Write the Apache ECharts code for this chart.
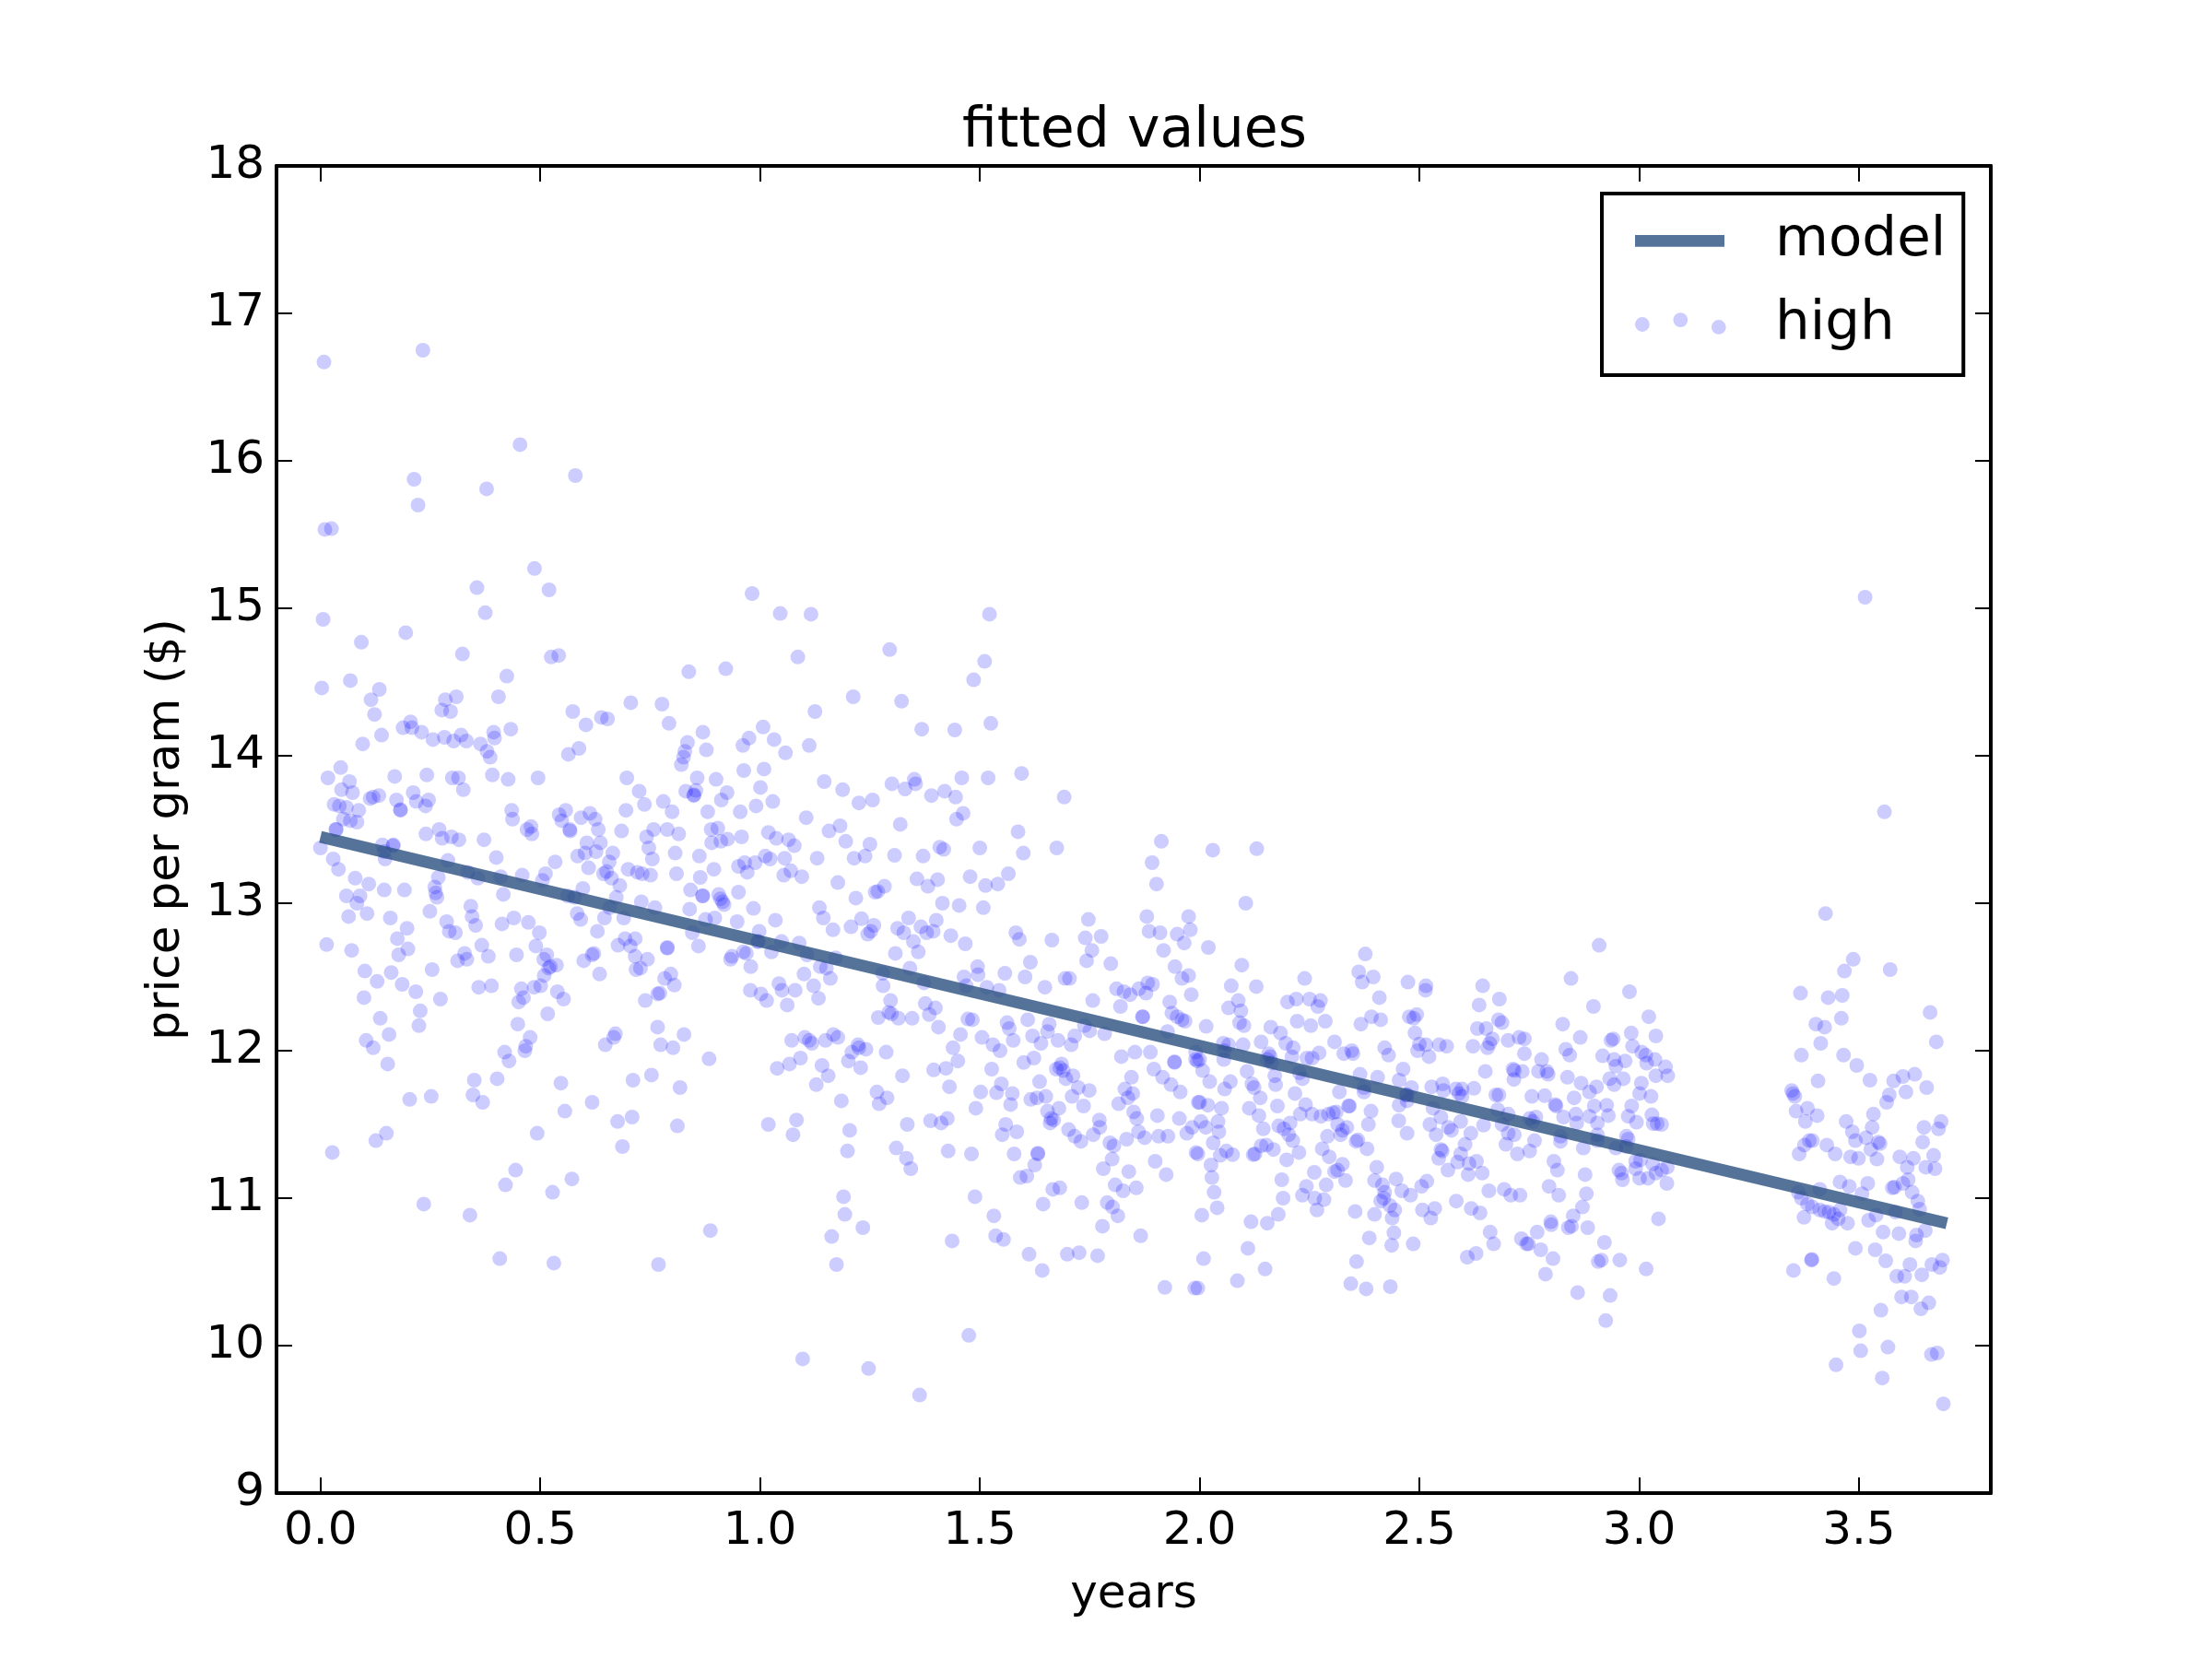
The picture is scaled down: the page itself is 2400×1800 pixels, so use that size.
<!DOCTYPE html>
<html>
<head>
<meta charset="utf-8">
<title>fitted values</title>
<script src="https://cdn.jsdelivr.net/npm/echarts@6/dist/echarts.min.js"></script>
<style>
  html, body { margin: 0; padding: 0; background: #fff; }
  #chart { width: 2400px; height: 1800px; }
</style>
</head>
<body>
<div id="chart"></div>
<script>
// tick labels
var xTicks = [0, 0.5, 1, 1.5, 2, 2.5, 3, 3.5];
var yTicks = [9, 10, 11, 12, 13, 14, 15, 16, 17, 18];

// fitted line, [years, price]
var modelLine = [[0, 13.45], [3.7, 10.83]];

// scatter values, [years, price], split by area of the plot
var highTopLeft = [[0.008,16.67],[0.233,16.75],[0.454,16.11],[0.213,15.875],[0.58,15.9],[0.378,15.81],[0.222,15.7],[0.01,15.535],[0.025,15.54],[0.487,15.27],[0.356,15.14],[0.52,15.125],[0.006,14.925],[0.375,14.97],[0.194,14.835],[0.093,14.77],[0.323,14.69],[0.525,14.67],[0.542,14.68],[0.424,14.54],[0.838,14.57],[0.922,14.59],[0.068,14.51],[0.003,14.46],[0.134,14.45],[0.115,14.38],[0.123,14.28],[0.284,14.38],[0.309,14.4],[0.405,14.4],[0.276,14.31],[0.296,14.3],[0.574,14.3],[0.706,14.36],[0.777,14.35],[0.793,14.22],[0.87,14.16],[0.639,14.26],[0.653,14.25],[0.604,14.21],[0.205,14.23],[0.188,14.19],[0.208,14.19],[0.23,14.16],[0.256,14.11],[0.282,14.125],[0.303,14.1],[0.32,14.14],[0.332,14.1],[0.139,14.14],[0.096,14.08],[0.364,14.08],[0.379,14.03],[0.386,13.99],[0.394,14.16],[0.396,14.12],[0.433,14.18],[0.588,14.05],[0.564,14.01],[0.835,14.09],[0.829,14.03],[0.826,13.99],[0.821,13.94],[0.878,14.04],[0.046,13.92]];

var highLeft = [[0.017,13.85],[0.066,13.825],[0.048,13.77],[0.073,13.75],[0.113,13.71],[0.12,13.72],[0.133,13.73],[0.031,13.67],[0.043,13.66],[0.059,13.65],[0.087,13.63],[0.052,13.57],[0.068,13.56],[0.083,13.55],[0.036,13.5],[0.035,13.5],[0.169,13.86],[0.173,13.7],[0.182,13.63],[0.182,13.635],[0.211,13.75],[0.218,13.69],[0.239,13.66],[0.246,13.7],[0.242,13.87],[0.3,13.85],[0.314,13.85],[0.325,13.77],[0.391,13.87],[0.427,13.84],[0.495,13.85],[0.24,13.47],[0.27,13.5],[0.277,13.44],[0.298,13.45],[0.315,13.43],[0.372,13.43],[0.435,13.63],[0.437,13.57],[0.479,13.52],[0.47,13.5],[0.481,13.47],[0.4,13.31],[0.166,13.395],[0.165,13.39],[0.141,13.395],[0.145,13.35],[0.147,13.3],[0,13.375],[0.029,13.3],[0.041,13.23],[0.079,13.17],[0.11,13.13],[0.059,13.05],[0.09,13.05],[0.083,13],[0.145,13.09],[0.191,13.09],[0.064,12.91],[0.106,12.93],[0.159,12.9],[0.197,12.83],[0.175,12.76],[0.199,12.69],[0.178,12.65],[0.014,12.72],[0.071,12.68],[0.101,12.54],[0.161,12.53],[0.129,12.47],[0.186,12.45],[0.217,12.4],[0.099,12.36],[0.273,12.35],[0.254,12.55],[0.227,12.27],[0.136,12.22],[0.224,12.17],[0.156,12.11],[0.104,12.07],[0.12,12.02],[0.153,11.91],[0.203,11.67],[0.252,11.69],[0.027,11.31],[0.126,11.39],[0.15,11.44],[0.235,10.96],[0.34,10.885],[0.408,10.59],[0.531,10.56],[0.769,10.55],[0.887,10.78],[0.421,11.09],[0.444,11.19],[0.528,11.04],[0.572,11.13],[0.493,11.44],[0.556,11.59],[0.618,11.65],[0.547,11.78],[0.402,11.81],[0.35,11.8],[0.347,11.7],[0.369,11.65],[0.429,11.93],[0.419,11.99],[0.465,12],[0.467,12.03],[0.477,12.09],[0.449,12.18],[0.517,12.25],[0.539,12.4],[0.553,12.35],[0.457,12.42],[0.462,12.36],[0.451,12.33],[0.36,12.43],[0.389,12.44],[0.486,12.43],[0.501,12.44],[0.509,12.51],[0.523,12.57],[0.519,12.56],[0.537,12.58],[0.508,12.62],[0.515,12.65],[0.49,12.71],[0.446,12.65],[0.498,12.8],[0.473,12.87],[0.44,12.9],[0.413,12.86],[0.416,13.06],[0.367,12.715],[0.382,12.64],[0.328,12.66],[0.333,12.62],[0.312,12.61],[0.342,12.98],[0.345,12.91],[0.353,12.85],[0.287,12.875],[0.293,12.81],[0.307,12.8],[0.249,12.945],[0.26,13.11],[0.262,13.07],[0.265,13.04],[0.268,13.175],[0.29,13.29],[0.335,13.21],[0.358,13.17],[0.41,13.18],[0.459,13.19],[0.505,13.155],[0.512,13.2],[0.534,13.28],[0.543,13.6],[0.558,13.63],[0.549,13.56],[0.567,13.5],[0.568,13.49],[0.593,13.58],[0.613,13.61],[0.625,13.57],[0.632,13.5],[0.606,13.41],[0.637,13.41],[0.602,13.34],[0.627,13.35],[0.585,13.32],[0.665,13.34],[0.657,13.28],[0.61,13.24],[0.685,13.49],[0.695,13.63],[0.697,13.85],[0.725,13.76],[0.737,13.67],[0.78,13.69],[0.8,13.62],[0.758,13.5],[0.742,13.45],[0.747,13.375],[0.755,13.3],[0.789,13.5],[0.815,13.47],[0.807,13.34],[0.81,13.2],[0.7,13.23],[0.721,13.21],[0.732,13.2],[0.751,13.19],[0.644,13.2],[0.651,13.215],[0.662,13.17],[0.681,13.12],[0.673,13.04],[0.597,13.1],[0.5625,13.05],[0.578,13.04],[0.584,12.93],[0.592,12.89],[0.646,12.9],[0.658,12.97],[0.69,12.9],[0.73,13.01],[0.761,12.97],[0.63,12.81],[0.677,12.715],[0.693,12.76],[0.716,12.76],[0.705,12.71],[0.716,12.64],[0.744,12.62],[0.789,12.7],[0.789,12.695],[0.599,12.61],[0.618,12.65],[0.622,12.66],[0.635,12.52],[0.718,12.55],[0.728,12.56],[0.797,12.52],[0.783,12.49],[0.805,12.445],[0.772,12.39],[0.767,12.385],[0.739,12.34],[0.767,12.16],[0.671,12.115],[0.667,12.09],[0.648,12.04],[0.827,12.11],[0.774,12.04],[0.802,12.02],[0.884,11.945],[0.753,11.835],[0.711,11.8],[0.818,11.75],[0.709,11.55],[0.676,11.52],[0.812,11.49],[0.687,11.35],[0.857,13.85],[0.9,13.84],[0.831,13.76],[0.854,13.765],[0.849,13.73],[0.85,13.735],[0.925,13.75],[0.912,13.7],[0.881,13.62],[0.889,13.5],[0.904,13.51],[0.89,13.41],[0.911,13.42],[0.926,13.435],[0.862,13.32],[0.895,13.23],[0.864,13.175],[0.842,13.09],[0.869,13.05],[0.87,13.05],[0.906,13.06],[0.91,13.03],[0.915,13.01],[0.918,12.99],[0.84,12.96],[0.876,12.89],[0.897,12.9],[0.846,12.8],[0.86,12.71],[0.933,12.62],[0.936,12.64]];

var highMidUpper = [[0.982,15.1],[1.046,14.965],[1.116,14.96],[1.522,14.96],[1.086,14.67],[1.295,14.72],[1.511,14.64],[1.486,14.515],[1.212,14.4],[1.322,14.37],[1.125,14.3],[1.525,14.22],[1.368,14.18],[1.443,14.175],[1.007,14.195],[0.975,14.12],[0.961,14.07],[1.032,14.11],[1.058,14.02],[1.112,14.07],[0.963,13.9],[1.009,13.91],[1.001,13.785],[1.146,13.825],[1.188,13.77],[1.225,13.68],[1.256,13.7],[1.3,13.81],[1.33,13.775],[1.351,13.84],[1.354,13.81],[1.39,13.73],[1.42,13.76],[1.445,13.72],[1.459,13.85],[1.519,13.85],[1.595,13.88],[1.692,13.72],[1.462,13.61],[1.447,13.57],[1.319,13.535],[0.991,13.66],[1.029,13.69],[0.955,13.62],[1.105,13.58],[1.182,13.525],[1.157,13.49],[0.958,13.45],[1.019,13.48],[1.037,13.44],[1.065,13.43],[1.078,13.39],[1.195,13.42],[1.25,13.4],[1.587,13.485],[1.675,13.375],[1.599,13.34],[1.5,13.375],[1.409,13.38],[1.418,13.365],[1.371,13.32],[1.306,13.325],[1.239,13.32],[1.214,13.305],[1.13,13.305],[1.056,13.305],[1.012,13.32],[1.023,13.3],[0.989,13.275],[0.965,13.275],[0.971,13.21],[0.951,13.25],[1.07,13.22],[1.054,13.19],[1.095,13.18],[1.565,13.2],[1.478,13.18],[1.541,13.13],[1.513,13.12],[1.357,13.165],[1.404,13.16],[1.382,13.115],[1.892,13.275],[1.913,13.42],[1.902,13.13],[1.177,13.14],[1.283,13.115],[1.268,13.08],[1.262,13.075],[0.951,13.075],[1.218,13.035],[1.415,13],[1.453,12.985],[1.508,12.97],[0.985,12.965],[1.135,12.97],[1.144,12.9],[1.035,12.885],[0.948,12.875],[1.231,12.895],[1.338,12.9],[1.401,12.885],[1.747,12.89],[1.88,12.91],[1.975,12.91],[1.166,12.82],[1.207,12.84],[1.259,12.85],[1.252,12.81],[1.245,12.79],[1.313,12.83],[1.327,12.8],[1.366,12.84],[1.379,12.8],[1.394,12.81],[1.349,12.74],[1.36,12.67],[1.434,12.78],[1.467,12.725],[1.582,12.8],[1.59,12.755],[1.664,12.75],[1.74,12.765],[1.776,12.775],[1.755,12.68],[1.743,12.61],[1.798,12.59],[1.885,12.81],[1.91,12.8],[1.949,12.79],[1.979,12.82],[1.965,12.73],[1.918,12.68],[1.944,12.57],[1.308,12.66],[0.998,12.81],[0.996,12.74],[0.995,12.74],[1.049,12.74],[1.026,12.67],[1.089,12.73],[1.107,12.65],[1.172,12.63],[0.962,12.67],[0.969,12.66],[0.979,12.57],[1.137,12.57],[1.151,12.56],[1.341,12.56],[1.495,12.57],[1.615,12.6]];

var highMidLower = [[0.978,12.41],[1.002,12.385],[1.015,12.34],[1.043,12.455],[1.05,12.41],[1.08,12.41],[1.062,12.31],[1.1,12.52],[1.122,12.44],[1.133,12.355],[1.16,12.49],[1.28,12.44],[1.279,12.525],[1.297,12.34],[1.269,12.225],[1.293,12.26],[1.299,12.25],[1.315,12.22],[1.346,12.22],[1.376,12.32],[1.399,12.29],[1.385,12.245],[1.406,12.16],[1.464,12.5],[1.469,12.44],[1.496,12.515],[1.557,12.525],[1.603,12.5],[1.648,12.43],[1.694,12.49],[1.704,12.49],[1.516,12.43],[1.544,12.41],[1.373,12.46],[1.757,12.34],[1.811,12.42],[1.828,12.4],[1.842,12.38],[1.862,12.42],[1.878,12.39],[1.882,12.46],[1.893,12.45],[1.82,12.3],[1.87,12.23],[1.871,12.23],[1.96,12.49],[1.975,12.51],[1.981,12.38],[1.932,12.33],[1.937,12.255],[1.949,12.23],[1.96,12.21],[1.967,12.2],[1.927,12.13],[1.991,11.99],[1.991,11.94],[1.995,11.93],[1.678,12.07],[1.716,12.1],[1.708,12.04],[1.75,12.135],[1.784,12.115],[1.738,12.17],[1.658,12.18],[1.654,12.13],[1.62,12.1],[1.639,12.05],[1.609,12.21],[1.562,12.19],[1.567,12.15],[1.576,12.07],[1.505,12.09],[1.53,12.04],[1.546,12],[1.473,12.215],[1.483,12.21],[1.456,12.11],[1.439,12.02],[1.45,11.93],[1.423,11.88],[1.395,11.87],[1.324,11.83],[1.287,11.99],[1.223,12.04],[1.225,12.02],[1.241,12.01],[1.209,11.99],[1.201,11.93],[1.229,11.885],[1.177,12.09],[1.167,12.11],[1.149,12.07],[1.102,12.09],[1.112,12.07],[1.118,12.05],[1.072,12.07],[1.092,11.95],[1.067,11.91],[1.039,11.88],[1.141,11.9],[1.155,11.83],[1.128,11.77],[1.185,11.66],[1.266,11.72],[1.289,11.68],[1.271,11.64],[1.019,11.5],[1.083,11.53],[1.075,11.43],[1.204,11.46],[1.199,11.32],[1.335,11.5],[1.31,11.34],[1.333,11.27],[1.343,11.2],[1.388,11.525],[1.412,11.51],[1.426,11.54],[1.428,11.32],[1.481,11.3],[1.431,11.755],[1.502,11.72],[1.538,11.715],[1.549,11.775],[1.574,11.71],[1.57,11.635],[1.491,11.61],[1.527,11.875],[1.6,11.92],[1.623,11.95],[1.636,11.79],[1.616,11.67],[1.63,11.68],[1.65,11.69],[1.559,11.5],[1.584,11.45],[1.551,11.43],[1.578,11.3],[1.632,11.3],[1.632,11.305],[1.625,11.225],[1.592,11.14],[1.607,11.15],[1.654,11.59],[1.68,11.61],[1.662,11.54],[1.668,11.53],[1.66,11.51],[1.686,11.91],[1.682,11.885],[1.674,11.875],[1.69,11.865],[1.696,11.81],[1.712,11.83],[1.724,11.75],[1.749,11.73],[1.71,11.69],[1.736,11.625],[1.702,11.465],[1.716,11.42],[1.73,11.385],[1.772,11.53],[1.773,11.48],[1.758,11.43],[1.779,10.81],[1.768,10.61],[1.726,10.63],[1.699,10.62],[1.642,10.51],[1.612,10.62],[1.554,10.72],[1.536,10.745],[1.437,10.71],[1.532,10.88],[1.489,11.01],[1.644,10.96],[1.732,10.97],[1.666,11.06],[1.682,11.07],[1.79,10.97],[1.802,10.94],[1.814,10.88],[1.808,11.09],[1.826,11.05],[1.856,11.07],[1.866,10.745],[1.924,11.16],[1.899,11.25],[1.839,11.18],[1.781,11.2],[1.801,11.265],[1.796,11.375],[1.805,11.355],[1.834,11.4],[1.861,11.45],[1.875,11.41],[1.907,11.42],[1.928,11.42],[1.971,11.44],[1.983,11.48],[1.992,11.31],[1.904,11.56],[1.954,11.54],[1.85,11.585],[1.857,11.54],[1.816,11.64],[1.83,11.74],[1.848,11.71],[1.837,11.68],[1.845,11.82],[1.822,11.96],[1.853,11.99],[1.888,11.99],[1.943,11.92],[1.943,11.925],[1.896,11.875],[1.916,11.82],[1.935,11.77],[1.956,11.72],[1.997,11.65],[1.989,10.39],[1.921,10.395],[1.097,9.91],[1.247,9.845],[1.363,9.665],[1.475,10.07],[1.19,11.01],[1.193,10.89],[1.234,10.8],[1.163,10.74],[1.174,10.55]];

var highRight = [[2.105,13],[2.03,13.36],[2.13,13.37],[2.02,12.7],[2.096,12.58],[2.377,12.656],[2.909,12.715],[2.845,12.49],[2.362,12.535],[2.395,12.5],[2.37,12.465],[2.239,12.49],[2.072,12.44],[2.129,12.435],[2.474,12.465],[2.515,12.44],[2.514,12.41],[2.644,12.44],[2.682,12.35],[2.636,12.31],[2.978,12.4],[2.896,12.3],[2.409,12.36],[2.2,12.33],[2.22,12.35],[2.25,12.35],[2.275,12.34],[2.269,12.3],[2.088,12.34],[2.066,12.29],[2.094,12.27],[2.091,12.19],[2.101,12.17],[2.015,12.165],[2.222,12.2],[2.253,12.17],[2.286,12.2],[2.162,12.16],[2.184,12.12],[2.14,12.06],[2.196,12.05],[2.213,12.02],[2.307,12.06],[2.367,12.18],[2.391,12.23],[2.412,12.21],[2.477,12.23],[2.494,12.245],[2.487,12.22],[2.49,12.12],[2.632,12.15],[2.652,12.15],[2.68,12.21],[2.688,12.19],[2.826,12.18],[3.022,12.23],[2.866,12.09],[2.982,12.12],[2.941,12.08],[2.936,12.07],[2.666,12.08],[2.66,12.05],[2.702,12.07],[2.727,12.09],[2.739,12.08],[2.622,12.03],[2.655,12.02],[2.5,12.045],[2.515,12.04],[2.496,12],[2.545,12.04],[2.562,12.03],[2.522,11.96],[2.421,12.02],[2.43,11.97],[2.328,11.98],[2.346,12],[2.349,11.98],[2.272,11.985],[2.256,11.95],[2.244,11.95],[2.157,11.98],[2.161,11.96],[2.21,11.96],[2.099,12.04],[2.054,12.05],[2.066,12.04],[2.055,11.94],[2,11.94],[2.007,11.865],[2.023,11.79],[2.057,11.74],[2.07,11.79],[2.108,11.86],[2.119,11.775],[2.124,11.75],[2.138,11.68],[2.171,11.83],[2.173,11.77],[2.234,11.81],[2.217,11.71],[2.177,11.625],[2.113,11.61],[2.135,11.56],[2.05,11.61],[2,11.65],[2.019,11.63],[2.145,11.47],[2.18,11.49],[2.192,11.47],[2.203,11.43],[2.206,11.51],[2.212,11.39],[2.241,11.635],[2.256,11.57],[2.229,11.57],[2.276,11.555],[2.293,11.57],[2.304,11.58],[2.311,11.585],[2.339,11.625],[2.341,11.625],[2.318,11.72],[2.374,11.72],[2.39,11.59],[2.384,11.5],[2.365,11.84],[2.405,11.82],[2.463,11.875],[2.454,11.8],[2.314,11.5],[2.335,11.48],[2.325,11.46],[2.321,11.43],[2.291,11.42],[2.356,11.385],[2.36,11.395],[2.381,11.335],[2.279,11.335],[2.295,11.28],[2.226,11.31],[2.198,11.26],[2.168,11.33],[2.152,11.36],[2.14,11.355],[2.122,11.295],[2.126,11.3],[2.075,11.295],[2.061,11.32],[2.047,11.29],[1.996,11.3],[2.031,11.375],[2.044,11.45],[2.014,11.48],[2.042,11.52],[2.003,11.52],[2.026,11.225],[2.028,11.14],[2.033,11.04],[2.04,10.935],[2.005,10.885],[2.117,10.84],[2.154,10.83],[2.179,10.89],[2.11,10.66],[2.009,10.59],[2.086,10.44],[2.149,10.52],[1.996,10.39],[2.19,11],[2.187,11.125],[2.261,11.175],[2.243,11.08],[2.234,11.02],[2.262,11],[2.283,10.99],[2.267,10.92],[2.288,11.09],[2.307,11.18],[2.314,11.19],[2.325,11.23],[2.332,11.12],[2.403,11.21],[2.398,11.12],[2.416,11.09],[2.447,11.13],[2.517,11.115],[2.505,11.08],[2.46,11.05],[2.48,11.02],[2.421,11.04],[2.419,11],[2.412,10.98],[2.433,10.95],[2.444,10.92],[2.398,10.89],[2.354,10.91],[2.438,10.865],[2.442,10.765],[2.386,10.73],[2.437,10.68],[2.486,10.69],[2.357,10.57],[2.344,10.42],[2.379,10.385],[2.434,10.4],[2.507,10.92],[2.535,10.93],[2.526,10.865],[2.584,10.98],[2.618,10.93],[2.638,10.9],[2.658,11.05],[2.693,11.06],[2.708,11.02],[2.729,11.02],[2.661,10.77],[2.669,10.69],[2.629,10.625],[2.609,10.6],[2.768,10.77],[2.732,10.725],[2.744,10.69],[2.748,10.69],[2.776,10.65],[2.804,10.59],[2.787,10.485],[2.799,10.84],[2.8,10.82],[2.795,11.08],[2.817,11.02],[2.839,10.8],[2.846,10.81],[2.85,10.88],[2.871,10.94],[2.88,11.03],[2.883,10.8],[2.921,10.7],[2.907,10.57],[2.914,10.58],[2.956,10.58],[3.016,10.52],[2.86,10.36],[2.934,10.34],[2.924,10.17],[2.814,11.19],[2.806,11.25],[2.877,11.16],[2.565,11.19],[2.587,11.245],[2.594,11.3],[2.604,11.365],[2.611,11.16],[2.643,11.17],[2.613,11.235],[2.63,11.25],[2.544,11.27],[2.549,11.33],[2.552,11.32],[2.617,11.44],[2.573,11.46],[2.566,11.48],[2.538,11.43],[2.524,11.5],[2.594,11.52],[2.549,11.55],[2.531,11.61],[2.646,11.495],[2.697,11.365],[2.723,11.3],[2.751,11.32],[2.762,11.39],[2.702,11.44],[2.716,11.43],[2.821,11.385],[2.873,11.34],[2.454,11.63],[2.472,11.66],[2.453,11.525],[2.472,11.44],[2.528,11.755],[2.553,11.775],[2.555,11.73],[2.583,11.74],[2.597,11.74],[2.624,11.745],[2.59,11.71],[2.597,11.69],[2.482,11.75],[2.65,11.86],[2.713,11.875],[2.716,11.865],[2.734,11.86],[2.715,11.805],[2.674,11.7],[2.681,11.7],[2.678,11.6],[2.702,11.57],[2.688,11.5],[2.739,11.98],[2.778,11.94],[2.771,11.86],[2.79,11.86],[2.793,11.84],[2.837,11.82],[2.756,11.69],[2.785,11.695],[2.809,11.635],[2.811,11.625],[2.868,11.78],[2.852,11.68],[2.887,11.72],[2.903,11.755],[2.828,11.55],[2.856,11.57],[2.858,11.51],[2.898,11.625],[2.887,11.555],[2.905,11.51],[2.751,11.54],[2.765,11.55],[2.758,11.52],[2.926,11.63],[2.93,11.56],[2.933,11.81],[2.943,11.77],[2.964,11.81],[2.917,11.965],[2.943,11.94],[2.968,11.93],[2.947,11.895],[2.833,12.01],[2.842,11.97],[2.985,12.03],[3.006,11.99],[3.015,11.97],[3.017,11.915],[3.038,12.1],[3.036,11.94],[3.038,11.83],[3.005,11.78],[3.001,11.71],[3.027,11.69],[2.983,11.625],[2.975,11.555],[2.994,11.515],[3.029,11.565],[3.032,11.505],[3.041,11.505],[2.971,11.42],[2.975,11.4],[2.947,11.34],[2.992,11.25],[3.003,11.26],[2.992,11.2],[2.954,11.19],[2.96,11.17],[2.962,11.125],[3.001,11.135],[3.02,11.135],[3.038,11.17],[2.905,11.43],[3.044,10.86],[3.031,11.23],[2.154,11.94],[2.164,11.917],[2.056,12],[2.227,11.85],[2.374,11.75],[2.472,11.7],[2.47,11.7],[2.905,11.39],[2.971,11.35],[2.821,11.42]];

var highFarRight = [[3.06,11.89],[3.065,11.83],[3.051,11.5],[3.063,11.1],[3.064,11.21],[3.051,11.19],[3.514,15.075],[3.558,13.62],[3.424,12.93],[3.487,12.62],[3.467,12.54],[3.571,12.55],[3.367,12.39],[3.43,12.36],[3.462,12.375],[3.662,12.26],[3.46,12.22],[3.402,12.18],[3.422,12.16],[3.413,12.05],[3.676,12.06],[3.369,11.97],[3.465,11.97],[3.495,11.9],[3.407,11.795],[3.525,11.8],[3.579,11.795],[3.6,11.825],[3.627,11.84],[3.654,11.75],[3.347,11.73],[3.35,11.71],[3.354,11.69],[3.607,11.72],[3.569,11.7],[3.563,11.65],[3.357,11.59],[3.383,11.61],[3.405,11.56],[3.378,11.52],[3.533,11.57],[3.471,11.52],[3.687,11.52],[3.681,11.47],[3.648,11.48],[3.53,11.48],[3.485,11.45],[3.516,11.41],[3.492,11.39],[3.544,11.38],[3.548,11.37],[3.645,11.38],[3.387,11.39],[3.394,11.39],[3.376,11.36],[3.427,11.36],[3.446,11.3],[3.364,11.3],[3.527,11.33],[3.481,11.28],[3.499,11.27],[3.541,11.265],[3.593,11.28],[3.624,11.27],[3.67,11.29],[3.61,11.21],[3.652,11.21],[3.673,11.2],[3.457,11.11],[3.478,11.08],[3.52,11.1],[3.576,11.07],[3.581,11.075],[3.6,11.1],[3.612,11.125],[3.621,11.04],[3.634,10.98],[3.638,10.925],[3.411,11.06],[3.362,11.04],[3.369,11],[3.507,11.03],[3.383,10.96],[3.394,10.94],[3.411,10.92],[3.422,10.91],[3.432,10.905],[3.443,10.89],[3.457,10.92],[3.439,10.83],[3.453,10.86],[3.474,10.83],[3.375,10.87],[3.522,10.85],[3.539,10.885],[3.583,10.905],[3.555,10.77],[3.591,10.76],[3.492,10.66],[3.537,10.65],[3.651,10.78],[3.631,10.75],[3.629,10.71],[3.561,10.575],[3.616,10.55],[3.666,10.55],[3.684,10.53],[3.69,10.58],[3.586,10.47],[3.604,10.47],[3.643,10.48],[3.392,10.58],[3.393,10.585],[3.351,10.51],[3.443,10.455],[3.597,10.33],[3.619,10.33],[3.659,10.29],[3.641,10.25],[3.55,10.24],[3.501,10.1],[3.504,9.965],[3.566,9.99],[3.448,9.87],[3.553,9.78],[3.665,9.94],[3.678,9.95],[3.692,9.605]];

var highValues = highTopLeft.concat(highLeft, highMidUpper, highMidLower, highRight, highFarRight);

var chart = echarts.init(document.getElementById('chart'));
var fontName = 'DejaVu Sans';

var option = {
  animation: false,
  backgroundColor: '#fff',
  title: {
    text: 'fitted values',
    left: 1226,
    top: 108,
    textAlign: 'center',
    textStyle: { fontFamily: fontName, fontWeight: 'normal', fontSize: 60, color: '#000' }
  },
  // legend icons hold an empty box so that the mark keeps its size inside the item
  legend: {
    orient: 'vertical',
    left: 1738,
    top: 210,
    padding: [22, 19, 24, 36],
    itemGap: 31,
    itemWidth: 147,
    itemHeight: 58,
    borderColor: '#000',
    borderWidth: 4,
    borderRadius: 0,
    backgroundColor: '#fff',
    selectedMode: false,
    textStyle: { fontFamily: fontName, fontSize: 59.5, color: '#000' },
    data: [
      {
        name: 'model',
        icon: 'path://M0 0L0 0M147 58L147 58M0 22H97V34.8H0Z',
        itemStyle: { color: '#2a5080', opacity: 0.8 }
      },
      {
        name: 'high',
        icon: 'path://M0 0L0 0M147 58L147 58' +
          'M-2 28A8 8 0 1 0 14 28A8 8 0 1 0 -2 28Z' +
          'M40 23A8 8 0 1 0 56 23A8 8 0 1 0 40 23Z' +
          'M82 31A8 8 0 1 0 98 31A8 8 0 1 0 82 31Z',
        itemStyle: { color: 'rgb(204,204,255)', opacity: 1 }
      }
    ]
  },
  grid: { left: 300, right: 240, top: 180, bottom: 180, containLabel: false },
  xAxis: [
    {
      type: 'value', min: -0.1, max: 3.8, position: 'bottom',
      name: 'years', nameLocation: 'middle', nameGap: 86,
      nameTextStyle: { fontFamily: fontName, fontSize: 50, color: '#000' },
      axisLine: { onZero: false, lineStyle: { color: '#000', width: 4 } },
      axisTick: { inside: true, length: 17, customValues: xTicks, lineStyle: { color: '#000', width: 2 } },
      axisLabel: {
        margin: 17, customValues: xTicks, color: '#000', fontFamily: fontName, fontSize: 50,
        formatter: function (v) { return v.toFixed(1); }
      },
      splitLine: { show: false }
    },
    {
      type: 'value', min: -0.1, max: 3.8, position: 'top',
      axisLine: { onZero: false, lineStyle: { color: '#000', width: 4 } },
      axisTick: { inside: true, length: 17, customValues: xTicks, lineStyle: { color: '#000', width: 2 } },
      axisLabel: { show: false },
      splitLine: { show: false }
    }
  ],
  yAxis: [
    {
      type: 'value', min: 9, max: 18, position: 'left',
      name: 'price per gram ($)', nameLocation: 'middle', nameGap: 94,
      nameTextStyle: { fontFamily: fontName, fontSize: 50, color: '#000' },
      axisLine: { onZero: false, lineStyle: { color: '#000', width: 4 } },
      axisTick: { inside: true, length: 17, customValues: yTicks, lineStyle: { color: '#000', width: 2 } },
      axisLabel: { margin: 13, customValues: yTicks, color: '#000', fontFamily: fontName, fontSize: 50 },
      splitLine: { show: false }
    },
    {
      type: 'value', min: 9, max: 18, position: 'right',
      axisLine: { onZero: false, lineStyle: { color: '#000', width: 4 } },
      axisTick: { inside: true, length: 17, customValues: yTicks, lineStyle: { color: '#000', width: 2 } },
      axisLabel: { show: false },
      splitLine: { show: false }
    }
  ],
  series: [
    {
      name: 'high',
      type: 'scatter',
      data: highValues,
      symbolSize: 16,
      itemStyle: { color: 'blue', opacity: 0.2, borderWidth: 0 },
      large: false,
      progressive: 0,
      z: 2
    },
    {
      name: 'model',
      type: 'line',
      data: modelLine,
      showSymbol: false,
      lineStyle: { color: '#2a5080', width: 13, opacity: 0.8, cap: 'butt' },
      z: 3
    }
  ]
};
chart.setOption(option);
</script>
</body>
</html>
